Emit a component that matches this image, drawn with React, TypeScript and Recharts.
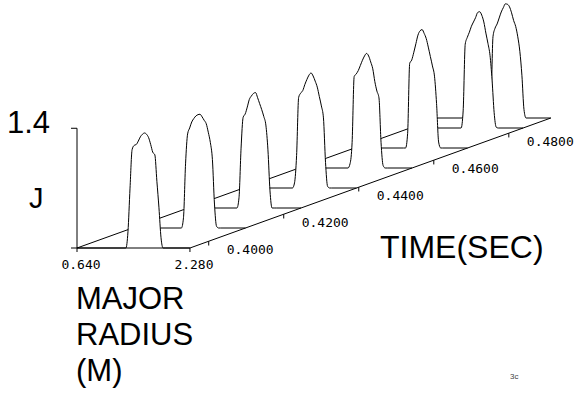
import { ComposedChart, Area, XAxis, YAxis, ReferenceLine, ReferenceDot } from "recharts";

// major radius grid (m) shared by every current-density profile
const radius = [0.64, 1.35, 1.38, 1.41, 1.44, 1.47, 1.5, 1.53, 1.56, 1.59, 1.62, 1.65, 1.68, 1.71, 1.74, 1.77, 1.8, 1.83, 1.86, 1.89, 1.92, 2.28];

// sample times (s), front to back
const times = [0.395, 0.4098, 0.4246, 0.4394, 0.4542, 0.469, 0.4838, 0.4912];

// J(R) at each sample time
const j0 = [0, 0, 0.19, 0.7, 1.15, 1.2, 1.21, 1.25, 1.3, 1.33, 1.345, 1.33, 1.29, 1.21, 1.12, 1.09, 0.78, 0.47, 0.12, 0, 0, 0];
const j1 = [0, 0, 0.12, 0.75, 1.1, 1.17, 1.24, 1.28, 1.31, 1.325, 1.33, 1.3, 1.26, 1.22, 1.12, 1.0, 0.8, 0.28, 0.02, 0, 0, 0];
const j2 = [0, 0, 0.12, 0.7, 1.06, 1.1, 1.18, 1.27, 1.31, 1.34, 1.35, 1.29, 1.22, 1.15, 1.07, 0.97, 0.68, 0.2, 0, 0, 0, 0];
const j3 = [0, 0, 0.06, 0.38, 1.06, 1.11, 1.14, 1.21, 1.27, 1.32, 1.345, 1.31, 1.25, 1.18, 1.07, 0.96, 0.82, 0.3, 0.02, 0, 0, 0];
const j4 = [0, 0, 0.05, 0.3, 1.07, 1.1, 1.14, 1.2, 1.26, 1.31, 1.34, 1.31, 1.24, 1.16, 1.01, 0.9, 0.82, 0.3, 0.03, 0, 0, 0];
const j5 = [0, 0, 0, 0.17, 0.99, 1.03, 1.12, 1.22, 1.32, 1.37, 1.385, 1.34, 1.28, 1.18, 1.07, 0.96, 0.84, 0.52, 0.07, 0, 0, 0];
const j6 = [0, 0, 0, 0.2, 0.98, 1.06, 1.12, 1.19, 1.24, 1.29, 1.35, 1.36, 1.32, 1.24, 1.11, 0.99, 0.85, 0.56, 0.18, 0.01, 0, 0];
const j7 = [0, 0, 0, 0.15, 0.95, 1.05, 1.1, 1.17, 1.24, 1.29, 1.335, 1.33, 1.3, 1.23, 1.14, 1.07, 0.95, 0.78, 0.5, 0.1, 0, 0];
const profiles = [j0, j1, j2, j3, j4, j5, j6, j7];

const timeTicks = [0.4, 0.42, 0.44, 0.46, 0.48];
const radiusTicks = [0.64, 2.28];
const jTicks = [0, 1.4];

// oblique projection of the time axis onto the (R, J) plane
const T_START = 0.395;
const T_END = 0.4912;
const SKEW_R = 5.24;
const SKEW_J = 1.52;
const R_MIN = 0.64;
const R_MAX = 2.28;
const shiftR = (t: number) => ((t - T_START) / (T_END - T_START)) * SKEW_R;
const shiftJ = (t: number) => ((t - T_START) / (T_END - T_START)) * SKEW_J;

const mono = "'DejaVu Sans Mono', monospace";
const sans = "'Liberation Sans', Arial, sans-serif";

const RadiusTick = (props: any) => (
  <text x={props.x + 4} y={props.y + 17} textAnchor="middle" fontFamily={mono} fontSize={13} fill="#000">
    {Number(props.payload.value).toFixed(3)}
  </text>
);

const JTick = (props: any) =>
  props.payload.value > 0 ? (
    <text x={props.x - 19} y={props.y + 5} textAnchor="end" fontFamily={sans} fontSize={31} fill="#000">
      {props.payload.value.toFixed(1)}
    </text>
  ) : (
    <g />
  );

const App = () => {
  const traces = times.map((t, i) => ({
    t,
    base: shiftJ(t),
    points: radius.map((r, k) => ({ x: r + shiftR(t), y: profiles[i][k] + shiftJ(t) })),
  }));
  const floorEdge = [
    { x: R_MIN, y: 0 },
    { x: R_MIN + SKEW_R, y: SKEW_J },
  ];

  return (
    <div style={{ position: "absolute", left: 0, top: 0, width: 577, height: 396, background: "#fff" }}>
      <ComposedChart width={577} height={396} margin={{ top: 0, right: 0, bottom: 0, left: 0 }}>
        <XAxis
          type="number"
          dataKey="x"
          domain={[R_MIN, 7.9]}
          ticks={radiusTicks}
          interval={0}
          axisLine={false}
          tickLine={{ stroke: "#000" }}
          tickSize={4}
          tickMargin={0}
          height={148}
          tick={RadiusTick}
        />
        <YAxis
          type="number"
          domain={[0, 2.9]}
          ticks={jTicks}
          interval={0}
          axisLine={false}
          tickLine={{ stroke: "#000" }}
          tickSize={6}
          width={77}
          tick={JTick}
        />
        {/* left floor edge, drawn first so the profiles hide it */}
        <Area data={floorEdge} dataKey="y" type="linear" fill="none" stroke="#000" strokeWidth={1} isAnimationActive={false} />
        {[...traces].reverse().map((tr) => (
          <Area
            key={tr.t}
            data={tr.points}
            dataKey="y"
            type="monotone"
            baseValue={tr.base}
            fill="#fff"
            fillOpacity={1}
            stroke="#000"
            strokeWidth={1}
            isAnimationActive={false}
          />
        ))}
        <ReferenceLine segment={[{ x: R_MIN, y: 0 }, { x: R_MIN, y: 1.4 }]} stroke="#000" />
        <ReferenceLine segment={[{ x: R_MIN, y: 0 }, { x: R_MAX, y: 0 }]} stroke="#000" />
        <ReferenceLine segment={[{ x: R_MAX, y: 0 }, { x: R_MAX + SKEW_R, y: SKEW_J }]} stroke="#000" />
        {timeTicks.map((t) => (
          <ReferenceLine
            key={`tl${t}`}
            segment={[
              { x: R_MAX + shiftR(t), y: shiftJ(t) },
              { x: R_MAX + shiftR(t), y: shiftJ(t) - 0.05 },
            ]}
            stroke="#000"
          />
        ))}
        {timeTicks.map((t) => (
          <ReferenceDot
            key={`tt${t}`}
            x={R_MAX + shiftR(t)}
            y={shiftJ(t)}
            r={0}
            shape={(p: any) => (
              <text x={p.cx + 18} y={p.cy + 13} fontFamily={mono} fontSize={13} fill="#000">
                {t.toFixed(4)}
              </text>
            )}
          />
        ))}
      </ComposedChart>
      <svg width={577} height={396} style={{ position: "absolute", left: 0, top: 0, pointerEvents: "none" }}>
        <g fontFamily={sans} fill="#000">
          <text x={29} y={208} fontSize={29}>J</text>
          <text x={76} y={309} fontSize={31}>MAJOR</text>
          <text x={76} y={345} fontSize={31}>RADIUS</text>
          <text x={76} y={381} fontSize={31}>(M)</text>
          <text x={380} y={258} fontSize={32}>TIME(SEC)</text>
          <text x={510} y={379} fontSize={8} fill="#444">3c</text>
        </g>
      </svg>
    </div>
  );
};

export default App;
